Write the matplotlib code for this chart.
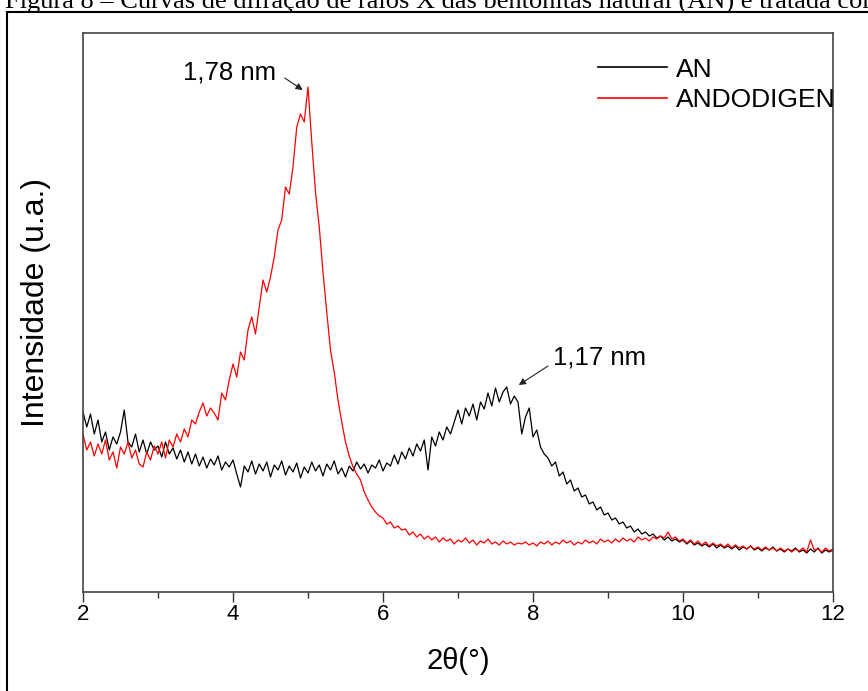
import numpy as np
import matplotlib
matplotlib.use("Agg")
import matplotlib.pyplot as plt
from matplotlib.patches import Rectangle

# 2theta grid (step 0.05 deg) and intensities (a.u.)
two_theta = np.round(np.arange(2.0, 12.0001, 0.05), 2)

an = [
    180, 165, 178, 158, 172, 150, 160, 142, 155, 148, 160, 182, 150, 145, 158, 140, 152, 138, 150, 142,   # 2-3
    146, 135, 150, 138, 144, 133, 142, 130, 140, 128, 138, 126, 135, 124, 133, 127, 136, 122, 130, 125,   # 3-4
    132, 118, 105, 126, 120, 131, 118, 128, 121, 130, 115, 127, 122, 131, 117, 126, 120, 129, 114, 125,   # 4-5
    119, 130, 121, 127, 116, 128, 122, 131, 118, 124, 115, 126, 121, 130, 123, 128, 119, 127, 124, 132,   # 5-6
    121, 129, 126, 137, 128, 140, 133, 144, 136, 148, 141, 152, 122, 155, 146, 160, 152, 165, 158, 170,   # 6-7
    182, 168, 184, 176, 188, 172, 190, 183, 199, 186, 204, 190, 200, 205, 188, 196, 190, 158, 175, 184,   # 7-8
    155, 162, 145, 138, 134, 126, 130, 116, 120, 108, 112, 101, 104, 95, 97, 88, 90, 82, 85, 77,          # 8-9
    79, 72, 74, 68, 70, 64, 66, 60, 63, 58, 60, 56, 58, 54, 56, 52, 55, 51, 53, 50,                       # 9-10
    52, 48, 51, 47, 49, 46, 48, 45, 48, 44, 47, 44, 46, 43, 46, 42, 45, 43, 46, 42,                       # 10-11
    44, 41, 44, 42, 45, 41, 43, 40, 43, 41, 44, 40, 42, 39, 43, 40, 44, 39, 42, 40,                       # 11-12
    42,
]

andodigen = [
    158, 142, 150, 136, 148, 138, 152, 132, 140, 124, 145, 138, 150, 134, 142, 128, 125, 140, 132, 146,   # 2-3
    138, 150, 134, 152, 145, 158, 150, 163, 155, 172, 168, 180, 189, 176, 184, 179, 172, 199, 192, 212,   # 3-4
    228, 215, 240, 232, 262, 275, 258, 285, 312, 300, 315, 335, 362, 372, 405, 398, 425, 465, 478, 470,   # 4-5
    505, 450, 400, 365, 320, 280, 242, 220, 192, 170, 150, 136, 125, 118, 112, 100, 92, 85, 80, 76,       # 5-6
    74, 68, 70, 64, 66, 62, 63, 57, 60, 55, 58, 53, 56, 52, 55, 50, 54, 51, 53, 48,                       # 6-7
    52, 50, 54, 49, 52, 47, 51, 49, 53, 48, 50, 47, 51, 48, 50, 47, 49, 48, 50, 47,                       # 7-8
    49, 46, 50, 48, 51, 47, 50, 48, 52, 49, 51, 47, 50, 48, 52, 49, 51, 48, 53, 50,                       # 8-9
    52, 49, 53, 50, 54, 51, 53, 50, 55, 52, 54, 51, 55, 53, 56, 54, 60, 53, 55, 51,                       # 9-10
    53, 49, 52, 48, 51, 47, 50, 46, 49, 46, 48, 45, 48, 44, 47, 44, 46, 43, 46, 43,                       # 10-11
    45, 42, 45, 42, 44, 41, 44, 41, 43, 40, 43, 41, 44, 40, 52, 42, 43, 40, 44, 41,                       # 11-12
    43,
]

x_ticks = [2, 4, 6, 8, 10, 12]
caption = "Figura 8 \u2013 Curvas de difra\u00e7\u00e3o de raios X das bentonitas natural (AN) e tratada com ANDODIGEN"

sans = ["Liberation Sans", "DejaVu Sans"]
narrow = ["Liberation Sans Narrow", "Liberation Sans", "DejaVu Sans"]

fig = plt.figure(figsize=(8.68, 6.91), dpi=100)
ax = fig.add_axes([83 / 868, 99 / 691, 750 / 868, 559 / 691])

# caption cut at the top of the page and the outer frame
fig.text(5 / 868, 1 - 9 / 691, caption, fontsize=19, family="Liberation Serif",
         va="baseline", ha="left")
fig.patches.append(Rectangle((7 / 868, -0.05), 1.1, 1 - 12 / 691 + 0.05,
                             transform=fig.transFigure, fill=False,
                             edgecolor="black", linewidth=1.5, clip_on=False))

ax.plot(two_theta, an, color="black", linewidth=0.9, label="AN")
ax.plot(two_theta, andodigen, color="#ff0000", linewidth=0.9, label="ANDODIGEN")

ax.set_xlim(2, 12)
ax.set_ylim(0, 559)
ax.set_xticks(x_ticks)
ax.set_xticks(np.arange(3, 12, 2), minor=True)
ax.set_yticks([])
ax.tick_params(axis="x", which="major", direction="out", length=7.5, width=1.0,
               color="#333333", pad=1, labelsize=16)
ax.tick_params(axis="x", which="minor", direction="out", length=4, width=1.0,
               color="#333333")
for lab in ax.get_xticklabels():
    lab.set_family(narrow)
for sp in ax.spines.values():
    sp.set_color("#444444")
    sp.set_linewidth(1.2)

ax.set_xlabel("2\u03b8(\u00b0)", fontsize=21, family=narrow, labelpad=16)
ax.set_ylabel("Intensidade (u.a.)", fontsize=23, family=sans)
ax.yaxis.set_label_coords(-0.042, 0.517)

# peak annotations
ax.text(3.96, 519, "1,78 nm", fontsize=18.5, family=sans, ha="center", va="center")
ax.annotate("", xy=(4.93, 502), xytext=(4.69, 514),
            arrowprops=dict(arrowstyle="-|>", color="#222222", lw=0.8,
                            mutation_scale=10, shrinkA=0, shrinkB=0))
ax.text(8.89, 234, "1,17 nm", fontsize=18.5, family=sans, ha="center", va="center")
ax.annotate("", xy=(7.81, 207), xytext=(8.2, 226),
            arrowprops=dict(arrowstyle="-|>", color="#222222", lw=0.8,
                            mutation_scale=10, shrinkA=0, shrinkB=0))

leg = ax.legend(loc="upper left", bbox_to_anchor=(0.687, 0.956), frameon=False,
                prop={"family": sans, "size": 19}, handlelength=2.6,
                handletextpad=0.35, labelspacing=0.25, borderpad=0,
                borderaxespad=0)
for h in leg.get_lines():
    h.set_linewidth(1.2)

fig.savefig("out.png", dpi=100)
